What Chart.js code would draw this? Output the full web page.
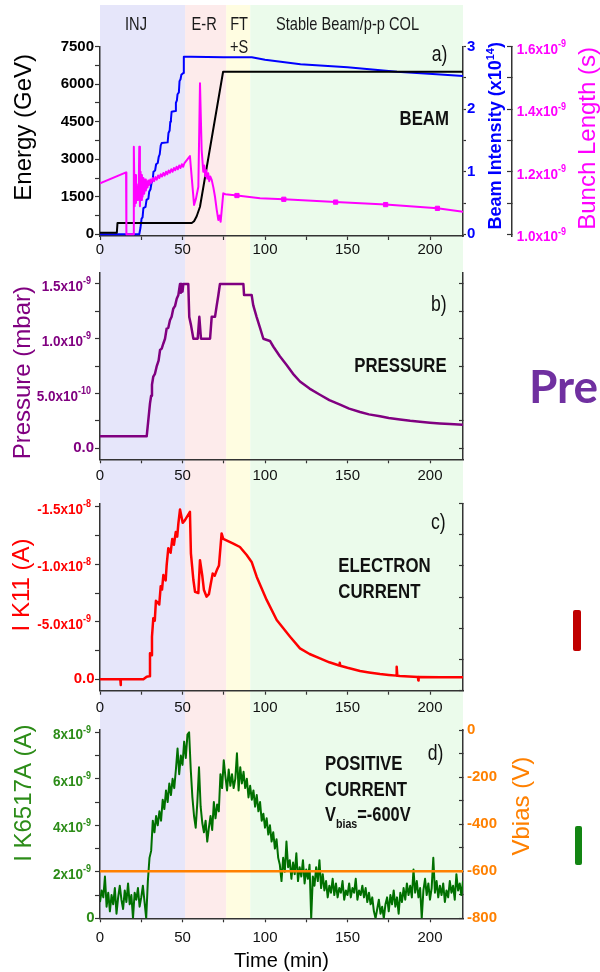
<!DOCTYPE html>
<html><head><meta charset="utf-8">
<script src="https://cdn.jsdelivr.net/npm/chart.js@4.4.1/dist/chart.umd.min.js"></script>
<style>
html,body{margin:0;padding:0;background:#fff;}
#wrap{position:relative;width:600px;height:972px;overflow:hidden;background:#fff;}
#wrap canvas{position:absolute;left:0;}
#pre{position:absolute;left:529px;top:363px;font-family:Lato,"Open Sans",sans-serif;font-weight:bold;font-size:46px;line-height:46px;color:#7030a0;white-space:nowrap;}
.bar{position:absolute;border-radius:2px;}
</style></head><body>
<div id="wrap">
<canvas id="cA" width="600" height="262" style="top:0px"></canvas>
<canvas id="cB" width="600" height="228" style="top:262px"></canvas>
<canvas id="cC" width="600" height="230" style="top:490px"></canvas>
<canvas id="cD" width="600" height="252" style="top:720px"></canvas>
<div id="pre">Pre</div>
<div class="bar" style="left:573px;top:610px;width:8px;height:41px;background:#c00000"></div>
<div class="bar" style="left:575px;top:826px;width:7px;height:39px;background:#138513"></div>
</div>
<script>
const F = '"Liberation Sans", Arial, Helvetica, sans-serif';
const AXIS = '#333333';

// ---- operation phases (min) ----
const phaseEdges = [0, 51.6, 76.5, 91.1, 220];
const phaseColors = ['#e6e6fa', '#fdebeb', '#fffde1', '#ebfbeb'];
const phaseLabels = ['INJ', 'E-R', 'FT', '+S', 'Stable Beam/p-p COL'];
const phaseLabelT = [21.8, 63.1, 84.3, 84.3, 150];
const phaseLabelRow = [0, 0, 0, 1, 0];

// ---- x axis ----
const xMajor = [0, 50, 100, 150, 200];
const xMinor = [25, 75, 125, 175];

// ---- panel a: beam ----
const energyT   = [0, 10.2, 10.6, 55.6, 57.0, 58.6, 60.6, 74.6, 220];
const energyGeV = [60, 60, 450, 450, 520, 720, 1100, 6500, 6500];
const energyMajor = [0, 1500, 3000, 4500, 6000, 7500];
const energyMinor = [750, 2250, 3750, 5250, 6750];

const intensityT = [0,23.8,24.5,25.2,25.8,26.3,27.6,28.2,29.3,29.8,30.6,31.2,31.9,32.4,33.4,34.0,35.0,35.6,36.2,36.8,37.4,41.0,41.5,42.2,42.6,43.0,43.4,45.6,46.0,46.6,47.0,47.8,48.2,48.8,49.3,50.5,50.8,55,75,92,100,121.5,150,180,204,220];
const intensity  = [0,0,0.1,0.25,0.27,0.42,0.44,0.55,0.57,0.68,0.72,0.82,0.86,1.0,1.02,1.12,1.14,1.24,1.28,1.42,1.46,1.47,1.62,1.66,1.8,1.84,1.96,1.97,2.1,2.14,2.24,2.27,2.45,2.48,2.55,2.58,2.84,2.84,2.83,2.83,2.79,2.72,2.67,2.6,2.56,2.53];
const intensityMajor = [0, 1, 2, 3];
const intensityMinor = [0.5, 1.5, 2.5];

// bunch length in units of 1e-9 s
const bunchT = [0,15.8,16.0,20.2,20.5,21.0,21.4,21.8,22.2,22.6,23.0,23.4,23.8,24.2,24.6,25.0,25.4,25.8,26.3,26.8,27.3,27.8,28.3,28.8,29.3,29.8,30.5,31.2,32,32.8,33.6,34.4,35.2,36,36.8,37.6,38.4,39.2,40,40.8,41.6,42.4,43.2,44,44.8,45.6,46.4,47.2,48,48.8,49.6,50.4,51.2,54.5,57,58.2,59.6,60.6,61.6,62.6,63.2,63.8,64.4,65,65.6,66.2,66.8,67.7,68.7,69.7,70.7,71.7,72.4,73.1,74.0,74.7,76,83,97,111.4,142.8,173.1,204.5,220];
const bunchLen = [1.163,1.198,1.0,1.0,1.28,1.09,1.19,1.10,1.16,1.11,1.15,1.12,1.28,1.09,1.2,1.11,1.19,1.12,1.18,1.13,1.175,1.14,1.17,1.15,1.172,1.158,1.175,1.165,1.18,1.17,1.183,1.175,1.188,1.18,1.192,1.185,1.196,1.188,1.2,1.192,1.204,1.197,1.208,1.2,1.212,1.205,1.216,1.208,1.22,1.212,1.224,1.216,1.228,1.25,1.094,1.115,1.152,1.483,1.27,1.2,1.22,1.185,1.205,1.178,1.195,1.17,1.185,1.174,1.15,1.12,1.08,1.046,1.06,1.04,1.09,1.131,1.128,1.124,1.115,1.112,1.103,1.095,1.083,1.072];
const bunchMarkT = [83, 111.4, 142.8, 173.1, 204.5];
const bunchMark  = [1.124, 1.112, 1.103, 1.095, 1.083];
const bunchMajor = [1.0, 1.2, 1.4, 1.6];
const bunchMinor = [1.1, 1.3, 1.5];
const bunchLabelBase = ['1.0x10', '1.2x10', '1.4x10', '1.6x10'];
const bunchLabelExp  = ['-9', '-9', '-9', '-9'];

// ---- panel b: pressure, units 1e-9 mbar ----
const pressureT = [0,28.3,29.3,30.3,31.0,31.5,32.3,33.3,34.3,35.5,36.4,37.4,38.4,39.4,40.4,41.4,42.4,43.4,44.4,45.5,46.5,47.5,48.5,49,49.5,50,50.5,53.5,54.1,55.2,56.6,59.2,60.2,61.2,66.7,67.7,69.7,70.7,71.7,72.7,86.9,87.3,91.9,92.9,94.9,97,99,103,105.1,109,113.1,117,121.2,127,133.3,139,145.5,151,157.6,163,169.7,175,181.8,188,193.9,200,206,212,220];
const pressure  = [0.11,0.11,0.26,0.41,0.48,0.58,0.655,0.68,0.745,0.8,0.897,0.91,0.957,1.0,1.093,1.1,1.168,1.2,1.274,1.3,1.365,1.4,1.5,1.42,1.5,1.43,1.5,1.5,1.198,1.12,1.0,1.0,1.2,1.0,1.0,1.2,1.2,1.3,1.395,1.5,1.5,1.4,1.4,1.304,1.2,1.1,1.0,0.98,0.927,0.84,0.761,0.68,0.61,0.545,0.489,0.44,0.399,0.362,0.332,0.31,0.293,0.277,0.263,0.251,0.242,0.233,0.226,0.221,0.216];
const pressureMajor = [0, 0.5, 1.0, 1.5];
const pressureMinor = [0.25, 0.75, 1.25];
const pressureLabelBase = ['0.0', '5.0x10', '1.0x10', '1.5x10'];
const pressureLabelExp  = ['', '-10', '-9', '-9'];

// ---- panel c: electron current IK11, units 1e-9 A ----
const ik11T = [0,12.3,12.5,12.7,26.3,28.3,29.7,30.3,31,31.5,32.3,33.2,33.9,35.9,36.8,37.6,38.4,39.8,40.4,41.4,42.8,43.8,44.8,45.9,46.8,47.5,48.5,50.1,51.5,54.5,55.1,56.6,57.6,59.6,60.6,62,63,64.6,66,67,68.3,69.5,70.7,72.1,73.7,74.7,80.8,84.8,88.9,91.9,95,101,107.1,115.2,121.2,127,133.3,139,145,145.3,145.6,150,157.6,163,169.7,175,179.6,179.8,180.2,181.8,192.7,192.9,193.1,206,220];
const ik11  = [0,0,0.5,0,0,-0.23,-0.26,-2.26,-2.1,-3.7,-5.3,-5.1,-6.83,-6.5,-8.1,-7.8,-9.06,-8.6,-9.93,-11.4,-11.0,-12.2,-11.7,-12.8,-12.4,-13.55,-14.77,-13.6,-13.84,-14.56,-10.95,-8.63,-7.6,-7.5,-10.36,-9.0,-7.76,-7.18,-7.4,-8.2,-9.2,-9.0,-9.45,-9.9,-12.68,-12.2,-11.8,-11.5,-10.8,-10.2,-8.9,-6.9,-5.15,-3.7,-2.69,-2.2,-1.82,-1.48,-1.2,-1.45,-1.18,-1.0,-0.72,-0.6,-0.46,-0.38,-0.32,-1.1,-0.31,-0.29,-0.2,0.1,-0.2,-0.17,-0.17];
const ik11Major = [0, -5, -10, -15];
const ik11Minor = [-2.5, -7.5, -12.5];
const ik11LabelBase = ['0.0', '-5.0x10', '-1.0x10', '-1.5x10'];
const ik11LabelExp  = ['', '-9', '-8', '-8'];
const mirrorCMajor = [0, 1, 2, 3, 4, 5, 6];

// ---- panel d: positive current IK6517A, units 1e-9 A, one reading per minute from t=0 ----
const posCurrentStep = 1;
const posCurrent = [
 0.7,1.2,0.9,1.8,0.5,1.1,0.3,1.0,0.6,1.3,
 0.2,0.9,1.4,0.8,0.4,1.2,0.7,1.5,0.6,1.0,
 0.0,1.1,0.8,1.3,0.5,0.9,1.4,0.7,0.0,1.6,
 2.6,2.9,4.2,3.7,4.4,4.0,4.6,4.2,5.1,4.7,
 5.5,5.0,5.8,5.3,6.0,5.6,6.4,7.3,6.2,7.0,
 6.6,7.6,6.9,7.9,8.0,6.4,5.2,4.4,3.9,5.0,
 6.5,4.8,4.1,3.7,4.2,3.3,3.9,4.4,3.8,5.0,
 4.3,4.9,4.6,6.2,5.6,6.8,6.1,5.5,6.4,5.7,
 6.2,5.6,6.0,7.1,5.5,6.5,5.8,6.3,5.6,6.0,
 5.2,5.7,5.1,5.5,4.8,5.3,4.6,5.0,4.2,4.5,
 3.9,4.3,3.6,4.0,3.3,3.7,3.0,3.4,2.6,2.3,
 1.6,2.6,2.0,3.3,2.2,2.5,1.7,2.4,1.9,2.8,
 1.6,2.2,1.8,2.5,1.5,2.1,1.7,2.3,0.0,1.8,
 1.4,2.2,1.6,2.5,1.3,1.9,1.2,1.6,0.9,1.4,
 1.1,1.7,1.0,1.5,0.9,1.3,1.1,1.6,0.8,1.2,
 1.0,1.5,0.9,1.3,1.1,1.7,0.8,1.2,1.0,1.4,
 0.9,1.3,0.7,1.1,0.6,0.9,0.3,0.0,0.4,0.8,
 0.2,0.5,0.0,0.6,0.9,0.3,1.0,0.6,1.2,0.5,
 0.9,0.2,1.1,0.7,1.3,0.8,1.5,1.0,1.4,0.9,
 2.1,1.1,1.6,0.9,1.3,0.0,1.2,1.7,1.0,1.5,
 0.8,1.3,2.6,1.1,1.6,0.9,1.4,1.0,1.5,0.7,
 1.2,0.9,1.6,1.1,1.4,0.8,1.9,1.2,1.5,1.0,1.6];
const posMajor = [0, 2, 4, 6, 8];
const posMinor = [1, 3, 5, 7];
const posLabelBase = ['0', '2x10', '4x10', '6x10', '8x10'];
const posLabelExp  = ['', '-9', '-9', '-9', '-9'];
const vbiasT = [0, 220];
const vbias = [-600, -600];
const vbiasMajor = [0, -200, -400, -600, -800];
const vbiasMinor = [-100, -300, -500, -700];

// ---- helpers ----
const zip = (ts, vs) => ts.map((t, i) => ({x: t, y: vs[i]}));
const GREEN_TXT = '#2c8c18';
const LBL_BASE = 'bold 15px ' + F;
const LBL_SUP = 'bold 10px ' + F;

function makeBands(top, toChartBottom) {
  return { id: 'bands', beforeDraw(chart) {
    const {ctx, chartArea, scales} = chart;
    const x = scales.x;
    const bottom = toChartBottom ? chartArea.bottom : chart.height;
    ctx.save();
    for (let i = 0; i < phaseColors.length; i++) {
      const x0 = x.getPixelForValue(phaseEdges[i]);
      const x1 = x.getPixelForValue(phaseEdges[i + 1]);
      ctx.fillStyle = phaseColors[i];
      ctx.fillRect(x0, top, x1 - x0, bottom - top);
    }
    ctx.restore();
  }};
}

function makeTexts(items) {
  return { id: 'texts', afterDraw(chart) {
    const {ctx, chartArea: ca} = chart;
    items.forEach(it => {
      let x;
      if (it.xv !== undefined) x = chart.scales.x.getPixelForValue(it.xv);
      else if (it.fromRight !== undefined) x = ca.right - it.fromRight;
      else x = ca.left + it.fromLeft;
      const y = it.absY !== undefined ? it.absY : ca.top + it.dy;
      const sx = it.sx || 1;
      const runs = it.runs || [{text: it.text, font: it.font, dy: 0}];
      ctx.save();
      ctx.fillStyle = it.color || '#111';
      ctx.textBaseline = 'alphabetic';
      ctx.textAlign = 'left';
      let total = 0;
      runs.forEach(r => { ctx.font = r.font; total += ctx.measureText(r.text).width * sx; });
      let cx = x;
      if (it.align === 'right') cx = x - total; else if (it.align === 'center') cx = x - total / 2;
      runs.forEach(r => {
        ctx.font = r.font;
        const w = ctx.measureText(r.text).width * sx;
        ctx.save(); ctx.translate(cx, y + (r.dy || 0)); ctx.scale(sx, 1); ctx.fillText(r.text, 0, 0); ctx.restore();
        cx += w;
      });
      ctx.restore();
    });
  }};
}

// rotated (reading upward) axis titles, optional runs with superscripts
function makeVTitles(items) {
  return { id: 'vtitles', afterDraw(chart) {
    const {ctx, chartArea: ca} = chart;
    items.forEach(it => {
      const s = chart.scales[it.scale];
      const x = it.from === 'left' ? s.left + it.inset : s.right - it.inset;
      const y = (ca.top + ca.bottom) / 2 + (it.dy || 0);
      const runs = it.runs || [{text: it.text, font: it.font, dy: 0}];
      ctx.save();
      ctx.translate(x, y); ctx.rotate(-Math.PI / 2);
      ctx.fillStyle = it.color;
      ctx.textAlign = 'left'; ctx.textBaseline = 'middle';
      let total = 0;
      runs.forEach(r => { ctx.font = r.font; total += ctx.measureText(r.text).width; });
      let cx = -total / 2;
      runs.forEach(r => {
        ctx.font = r.font;
        ctx.fillText(r.text, cx, r.dy || 0);
        cx += ctx.measureText(r.text).width;
      });
      ctx.restore();
    });
  }};
}

// tick labels with superscript exponents, placed at the scale's tick pixels
function makeExpLabels(specs) {
  return { id: 'explabels', afterDraw(chart) {
    const ctx = chart.ctx;
    specs.forEach(sp => {
      const s = chart.scales[sp.scale];
      sp.values.forEach((v, i) => {
        const y = s.getPixelForValue(v);
        const base = sp.bases[i], exp = sp.exps[i];
        ctx.save();
        ctx.fillStyle = sp.color; ctx.textAlign = 'left';
        if (!exp) {
          ctx.font = LBL_BASE; ctx.textBaseline = 'middle';
          const w = ctx.measureText(base).width;
          const x = sp.side === 'left' ? s.right - sp.plainGap - w : s.left + sp.gap;
          ctx.fillText(base, x, y);
        } else {
          ctx.textBaseline = 'alphabetic';
          const sx = 0.9;
          ctx.font = LBL_BASE; const wb = ctx.measureText(base).width * sx;
          ctx.font = LBL_SUP; const we = ctx.measureText(exp).width * sx;
          const x = sp.side === 'left' ? s.right - sp.gap - wb - we : s.left + sp.gap;
          ctx.save(); ctx.translate(x, y + 7); ctx.scale(sx, 1); ctx.font = LBL_BASE; ctx.fillText(base, 0, 0); ctx.restore();
          ctx.save(); ctx.translate(x + wb, y + 0.5); ctx.scale(sx, 1); ctx.font = LBL_SUP; ctx.fillText(exp, 0, 0); ctx.restore();
        }
        ctx.restore();
      });
    });
  }};
}

function xAxis(height, pad, title) {
  const all = xMajor.concat(xMinor).sort((a, b) => a - b);
  return {
    type: 'linear', position: 'bottom', min: 0, max: 220,
    afterBuildTicks: s => { s.ticks = all.map(v => ({value: v})); },
    afterFit: s => { s.height = height; s.paddingLeft = 0; s.paddingRight = 0; },
    ticks: { autoSkip: false, maxRotation: 0, padding: pad, color: '#111',
      font: {family: F, size: 15},
      callback: v => (xMajor.indexOf(v) >= 0 ? String(v) : '') },
    grid: { drawOnChartArea: false, drawTicks: true, tickLength: 4, color: AXIS, tickWidth: 1.2 },
    border: { display: true, color: AXIS, width: 1.5 },
    title: title ? { display: true, text: title, color: '#000', font: {family: F, size: 20, lineHeight: 1}, padding: {top: 0, bottom: 1} } : {display: false}
  };
}

function yAxis(o) {
  const all = o.majors.concat(o.minors || []).sort((a, b) => a - b);
  return {
    type: 'linear', position: o.pos || 'left', min: o.min, max: o.max, reverse: !!o.reverse, weight: o.weight || 0,
    afterBuildTicks: s => { s.ticks = all.map(v => ({value: v})); },
    afterFit: s => { s.width = o.width; s.paddingTop = 0; s.paddingBottom = 0; },
    ticks: { autoSkip: false, padding: o.pad, color: o.color || '#000',
      font: {family: F, size: 15, weight: 'bold'},
      callback: v => {
        if (!o.labels) return '';
        const i = o.majors.findIndex(m => Math.abs(m - v) < 1e-9);
        return i >= 0 ? o.labels[i] : '';
      } },
    grid: { drawOnChartArea: false, drawTicks: true, tickLength: o.tl, color: AXIS, tickWidth: 1.2 },
    border: { display: true, color: AXIS, width: 1.5 },
    title: { display: false }
  };
}

function common(padTop) {
  return {
    responsive: false, animation: false, events: [],
    layout: { padding: { top: padTop, left: 0, right: 0, bottom: 0 } },
    plugins: { legend: { display: false }, tooltip: { enabled: false } },
    elements: { line: { tension: 0, borderJoinStyle: 'round', fill: false }, point: { radius: 0 } }
  };
}

const BOLD20 = 'bold 20px ' + F;
const PANEL = '22px ' + F;
const TITLE = '24px ' + F;

// ---- panel A ----
const phaseItems = phaseLabels.map((t, i) => ({
  xv: phaseLabelT[i], absY: phaseLabelRow[i] ? 52.7 : 30, align: 'center',
  text: t, font: '19px ' + F, sx: 0.77, color: '#1a1a1a'
}));
new Chart(document.getElementById('cA'), {
  type: 'line',
  data: { datasets: [
    { data: zip(bunchMarkT, bunchMark), yAxisID: 'yBL', showLine: false, pointRadius: 3, pointStyle: 'rect',
      pointBackgroundColor: '#ff00ff', pointBorderColor: '#ff00ff', pointBorderWidth: 1 },
    { data: zip(bunchT, bunchLen), yAxisID: 'yBL', borderColor: '#ff00ff', borderWidth: 2 },
    { data: zip(energyT, energyGeV), yAxisID: 'y', borderColor: '#000000', borderWidth: 2 },
    { data: zip(intensityT, intensity), yAxisID: 'yI', borderColor: '#0000ff', borderWidth: 2 }
  ]},
  options: Object.assign(common(46.7), {
    scales: {
      x: xAxis(26, 1),
      y: yAxis({min: -68, max: 7500, majors: energyMajor, minors: energyMinor, labels: energyMajor.map(String), width: 100, tl: 5, pad: 1, color: '#000'}),
      yI: yAxis({pos: 'right', weight: 0, min: -0.0272, max: 3, majors: intensityMajor, minors: intensityMinor, labels: intensityMajor.map(String), width: 49, tl: 3, pad: 1, color: '#0000ff'}),
      yBL: yAxis({pos: 'right', weight: 1, min: 0.99456, max: 1.6, majors: bunchMajor, minors: bunchMinor, labels: null, width: 88, tl: -5, pad: 10, color: '#ff00ff'})
    }
  }),
  plugins: [
    makeBands(5, false),
    makeTexts(phaseItems.concat([
      { fromRight: 15.7, dy: 14.3, align: 'right', text: 'a)', font: PANEL, sx: 0.8 },
      { fromRight: 14, dy: 78.3, align: 'right', text: 'BEAM', font: BOLD20, sx: 0.84 }
    ])),
    makeExpLabels([
      { scale: 'yBL', side: 'right', gap: 4.7, values: bunchMajor, bases: bunchLabelBase, exps: bunchLabelExp, color: '#ff00ff' }
    ]),
    makeVTitles([
      { scale: 'y', from: 'left', inset: 24, dy: -14, text: 'Energy (GeV)', font: TITLE, color: '#000' },
      { scale: 'yI', from: 'right', inset: 16, dy: -5.6, color: '#0000ff', runs: [
        { text: 'Beam Intensity (x10', font: 'bold 18px ' + F, dy: 0 },
        { text: '14', font: 'bold 11px ' + F, dy: -5 },
        { text: ')', font: 'bold 18px ' + F, dy: 0 }
      ]},
      { scale: 'yBL', from: 'right', inset: 12, dy: -3, text: 'Bunch Length (s)', font: TITLE, color: '#ff00ff' }
    ])
  ]
});

// ---- panel B ----
new Chart(document.getElementById('cB'), {
  type: 'line',
  data: { datasets: [
    { data: zip(pressureT, pressure), yAxisID: 'y', borderColor: '#800080', borderWidth: 2.5 }
  ]},
  options: Object.assign(common(11), {
    scales: {
      x: xAxis(30.7, 4),
      y: yAxis({min: -0.1, max: 1.6, majors: pressureMajor, minors: pressureMinor, labels: null, width: 100, tl: 5, pad: 1}),
      y2: yAxis({pos: 'right', min: -0.1, max: 1.6, majors: pressureMajor, minors: pressureMinor, labels: null, width: 137, tl: -4, pad: 4})
    }
  }),
  plugins: [
    makeBands(0, false),
    makeTexts([
      { fromRight: 16.3, dy: 38, align: 'right', text: 'b)', font: PANEL, sx: 0.8 },
      { fromRight: 16.3, dy: 98.7, align: 'right', text: 'PRESSURE', font: BOLD20, sx: 0.84 }
    ]),
    makeExpLabels([
      { scale: 'y', side: 'left', gap: 9, plainGap: 6, values: pressureMajor, bases: pressureLabelBase, exps: pressureLabelExp, color: '#800080' }
    ]),
    makeVTitles([
      { scale: 'y', from: 'left', inset: 23, dy: 6.5, text: 'Pressure (mbar)', font: TITLE, color: '#800080' }
    ])
  ]
});

// ---- panel C ----
new Chart(document.getElementById('cC'), {
  type: 'line',
  data: { datasets: [
    { data: zip(ik11T, ik11), yAxisID: 'y', borderColor: '#ff0000', borderWidth: 2.5 }
  ]},
  options: Object.assign(common(13.3), {
    scales: {
      x: xAxis(29.3, 4),
      y: yAxis({min: -15.3, max: 0.99, reverse: true, majors: ik11Major, minors: ik11Minor, labels: null, width: 100, tl: 5, pad: 1}),
      y2: yAxis({pos: 'right', min: 0, max: 6, majors: mirrorCMajor, minors: [], labels: null, width: 137, tl: -4, pad: 4})
    }
  }),
  plugins: [
    makeBands(0, false),
    makeTexts([
      { fromRight: 17.3, dy: 26, align: 'right', text: 'c)', font: PANEL, sx: 0.8 },
      { fromLeft: 238.3, dy: 69, text: 'ELECTRON', font: BOLD20, sx: 0.84 },
      { fromLeft: 238.3, dy: 95, text: 'CURRENT', font: BOLD20, sx: 0.84 }
    ]),
    makeExpLabels([
      { scale: 'y', side: 'left', gap: 9, plainGap: 5.5, values: ik11Major, bases: ik11LabelBase, exps: ik11LabelExp, color: '#ff0000' }
    ]),
    makeVTitles([
      { scale: 'y', from: 'left', inset: 22, dy: -12, text: 'I K11 (A)', font: TITLE, color: '#ff0000' }
    ])
  ]
});

// ---- panel D ----
new Chart(document.getElementById('cD'), {
  type: 'line',
  data: { datasets: [
    { data: zip(vbiasT, vbias), yAxisID: 'yV', borderColor: '#ff8000', borderWidth: 2.5 },
    { data: posCurrent.map((v, i) => ({x: i * posCurrentStep, y: v})), yAxisID: 'y', borderColor: '#007000', borderWidth: 2 }
  ]},
  options: Object.assign(common(10), {
    scales: {
      x: xAxis(53.7, 7, 'Time (min)'),
      y: yAxis({min: 0, max: 8.1, majors: posMajor, minors: posMinor, labels: null, width: 100, tl: 5, pad: 1}),
      yV: yAxis({pos: 'right', min: -800, max: 0, majors: vbiasMajor, minors: vbiasMinor, labels: vbiasMajor.map(String), width: 137, tl: -4, pad: 8, color: '#ff8000'})
    }
  }),
  plugins: [
    makeBands(0, true),
    makeTexts([
      { fromRight: 19.7, dy: 30, align: 'right', text: 'd)', font: PANEL, sx: 0.8 },
      { fromLeft: 225, dy: 40, text: 'POSITIVE', font: BOLD20, sx: 0.84 },
      { fromLeft: 225, dy: 65.7, text: 'CURRENT', font: BOLD20, sx: 0.84 },
      { fromLeft: 225, dy: 91, sx: 0.82, runs: [
        { text: 'V', font: BOLD20, dy: 0 },
        { text: 'bias', font: 'bold 13px ' + F, dy: 7 },
        { text: '=-600V', font: BOLD20, dy: 0 }
      ]}
    ]),
    makeExpLabels([
      { scale: 'y', side: 'left', gap: 9, plainGap: 5.5, values: posMajor, bases: posLabelBase, exps: posLabelExp, color: GREEN_TXT }
    ]),
    makeVTitles([
      { scale: 'y', from: 'left', inset: 24, dy: -31, text: 'I K6517A (A)', font: TITLE, color: GREEN_TXT },
      { scale: 'yV', from: 'left', inset: 59, dy: -18, text: 'Vbias (V)', font: TITLE, color: '#ff8000' }
    ])
  ]
});
</script>
</body></html>
